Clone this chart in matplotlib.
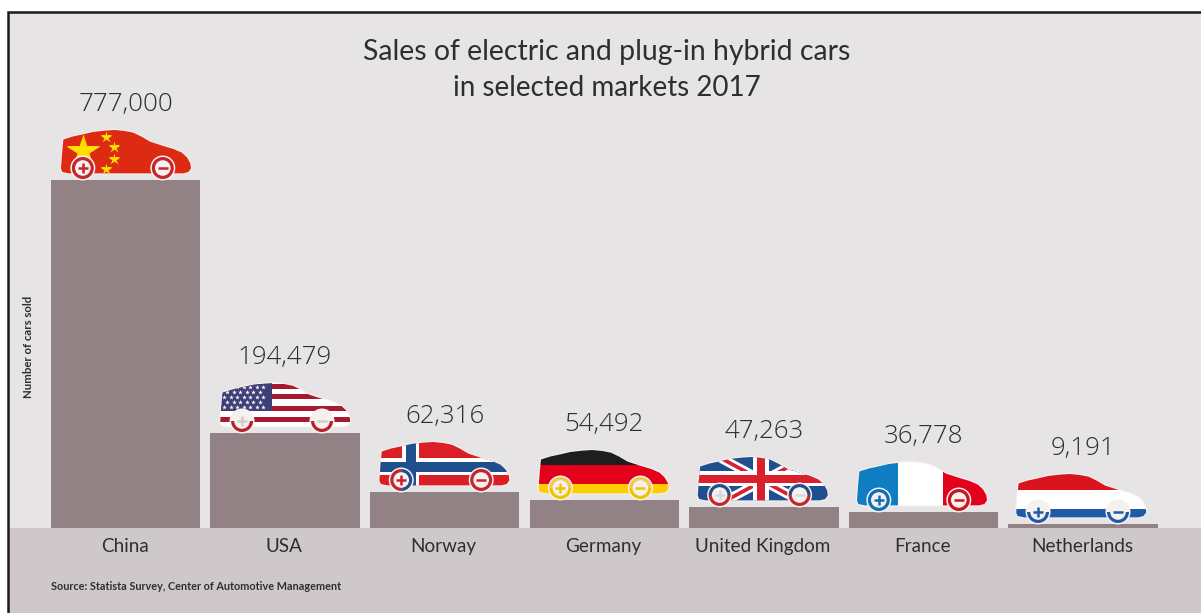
import matplotlib
matplotlib.use('Agg')
import matplotlib.pyplot as plt
from matplotlib.patches import Circle, PathPatch, Polygon, Rectangle, Wedge
from matplotlib.path import Path

plt.rcParams['font.family'] = ['Lato', 'DejaVu Sans']

# Data
countries = ['China', 'USA', 'Norway', 'Germany', 'United Kingdom', 'France', 'Netherlands']
labels = ['777,000', '194,479', '62,316', '54,492', '47,263', '36,778', '9,191']
# the source bars are not to scale with the labels, so heights are read off the picture
bar_heights = [348, 95, 36, 28, 21, 16, 4]

BG = '#E7E4E5'
BAND = '#CFC8CB'
BAR = '#928285'
TEXT = '#2E2E30'
PALE = '#F6F1EE'
BAR_X0 = 125.5
BAR_STEP = 159.6
CAR_W = 130
CAR_H = 50

# car outline, x right and y up, both 0..1 across the car box
BODY = [(0.00, 0.23), (0.008, 0.53), (0.018, 0.81), (0.09, 0.87), (0.168, 0.913), (0.245, 0.96),
        (0.336, 0.987), (0.413, 1.00), (0.49, 0.98), (0.556, 0.947), (0.62, 0.867), (0.685, 0.767),
        (0.788, 0.68), (0.866, 0.62), (0.93, 0.547), (0.969, 0.453), (0.995, 0.333), (1.00, 0.233),
        (0.98, 0.16), (0.94, 0.133), (0.06, 0.133), (0.01, 0.16)]
WHEELS = [(0.168, 0.24), (0.783, 0.24)]


def box(ax, car, x0, y0, x1, y1, color, clip):
    """Rectangle in car coordinates, cut to the car outline"""
    cx, cy = car
    r = Rectangle((cx + x0 * CAR_W, cy + y0 * CAR_H), (x1 - x0) * CAR_W, (y1 - y0) * CAR_H,
                  fc=color, ec='none', zorder=3)
    ax.add_patch(r)
    r.set_clip_path(clip)


def poly(ax, car, pts, color, clip):
    cx, cy = car
    p = Polygon([(cx + a * CAR_W, cy + b * CAR_H) for a, b in pts], closed=True, fc=color, ec='none', zorder=3)
    ax.add_patch(p)
    p.set_clip_path(clip)


def star(ax, car, a, b, size, clip, color='#FFDE00'):
    cx, cy = car
    m = ax.plot(cx + a * CAR_W, cy + b * CAR_H, marker='*', ms=size, color=color, mec='none', zorder=4)[0]
    m.set_clip_path(clip)


def flag_china(ax, car, clip):
    box(ax, car, -0.1, -0.1, 1.1, 1.1, '#DD2A12', clip)
    star(ax, car, 0.168, 0.59, 25, clip)
    for a, b in [(0.344, 0.853), (0.41, 0.667), (0.41, 0.413), (0.344, 0.227)]:
        star(ax, car, a, b, 9, clip)


def flag_usa(ax, car, clip):
    box(ax, car, -0.1, -0.1, 1.1, 1.1, 'white', clip)
    for y0 in [0.89, 0.68, 0.45, 0.22]:
        box(ax, car, -0.1, y0, 1.1, y0 + 0.10, '#A6192E', clip)
    box(ax, car, -0.1, 0.446, 0.397, 1.1, '#3F3F78', clip)
    for row in range(5):
        for col in range(7 - row % 2):
            star(ax, car, 0.03 + 0.05 * col + 0.025 * (row % 2), 0.53 + 0.10 * row, 3.5, clip, 'white')


def flag_norway(ax, car, clip):
    box(ax, car, -0.1, -0.1, 1.1, 1.1, '#DA1F26', clip)
    box(ax, car, 0.174, -0.1, 0.308, 1.1, 'white', clip)
    box(ax, car, -0.1, 0.336, 1.1, 0.671, 'white', clip)
    box(ax, car, 0.205, -0.1, 0.282, 1.1, '#1F4F8F', clip)
    box(ax, car, -0.1, 0.40, 1.1, 0.597, '#1F4F8F', clip)


def flag_germany(ax, car, clip):
    box(ax, car, -0.1, 0.696, 1.1, 1.1, '#1E1E1E', clip)
    box(ax, car, -0.1, 0.324, 1.1, 0.696, '#E2001A', clip)
    box(ax, car, -0.1, -0.1, 1.1, 0.324, '#FFCC00', clip)


def flag_uk(ax, car, clip):
    box(ax, car, -0.1, -0.1, 1.1, 1.1, '#1F4F8F', clip)
    for pts in [[(0.05, 1.05), (0.20, 1.05), (0.95, 0.0), (0.80, 0.0)],
                [(0.05, 0.0), (0.20, 0.0), (0.95, 1.05), (0.80, 1.05)]]:
        poly(ax, car, pts, 'white', clip)
    for pts in [[(0.095, 1.05), (0.155, 1.05), (0.905, 0.0), (0.845, 0.0)],
                [(0.095, 0.0), (0.155, 0.0), (0.905, 1.05), (0.845, 1.05)]]:
        poly(ax, car, pts, '#D9202C', clip)
    box(ax, car, 0.423, -0.1, 0.55, 1.1, 'white', clip)
    box(ax, car, -0.1, 0.413, 1.1, 0.713, 'white', clip)
    box(ax, car, 0.456, -0.1, 0.52, 1.1, '#D9202C', clip)
    box(ax, car, -0.1, 0.48, 1.1, 0.633, '#D9202C', clip)


def flag_france(ax, car, clip):
    box(ax, car, -0.1, -0.1, 0.316, 1.1, '#0E7DC2', clip)
    box(ax, car, 0.316, -0.1, 0.658, 1.1, 'white', clip)
    box(ax, car, 0.658, -0.1, 1.1, 1.1, '#E2001A', clip)


def flag_netherlands(ax, car, clip):
    box(ax, car, -0.1, 0.68, 1.1, 1.1, '#D9141E', clip)
    box(ax, car, -0.1, 0.30, 1.1, 0.68, 'white', clip)
    box(ax, car, -0.1, -0.1, 1.1, 0.30, '#1F5AA6', clip)


flags = [flag_china, flag_usa, flag_norway, flag_germany, flag_uk, flag_france, flag_netherlands]
# each wheel: first half of the ring, second half, sign colour, angle where the first half starts
RED = '#C4262E'
BLUE = '#1F4F8F'
wheel_styles = [
    [(RED, RED, RED, 0), (RED, RED, RED, 0)],
    [(PALE, '#B5222E', '#D8C8C8', 0), (PALE, '#B5222E', '#D8C8C8', 0)],
    [(BLUE, RED, RED, -90), (RED, RED, RED, 0)],
    [('#F2C94C', '#F2C200', '#F2C200', 0), ('#F2C94C', '#F2C200', '#F2C200', 0)],
    [(BLUE, RED, '#D8D8E0', 0), (BLUE, RED, '#D8D8E0', 0)],
    [('#0E6FB5', '#0E6FB5', '#0E6FB5', 0), ('#C8141E', '#C8141E', '#C8141E', 0)],
    [(PALE, '#1F5AA6', '#1F5AA6', 0), (PALE, '#1F5AA6', '#1F5AA6', 0)],
]


def wheel(ax, x, y, style, sign):
    top, bottom, glyph, angle = style
    ax.add_patch(Circle((x, y), 12.5, fc=PALE, ec='none', zorder=5))
    ax.add_patch(Wedge((x, y), 11, angle, angle + 180, width=3.2, fc=top, ec='none', zorder=6))
    ax.add_patch(Wedge((x, y), 11, angle + 180, angle + 360, width=3.2, fc=bottom, ec='none', zorder=6))
    ax.plot([x - 5, x + 5], [y, y], color=glyph, lw=1.8, zorder=7, solid_capstyle='butt')
    if sign == '+':
        ax.plot([x, x], [y - 5, y + 5], color=glyph, lw=1.8, zorder=7, solid_capstyle='butt')


def draw_car(ax, cx, base, flag, styles):
    x0 = cx - CAR_W / 2
    car = (x0, base)
    pts = [(x0 + a * CAR_W, base + b * CAR_H) for a, b in BODY]
    codes = [Path.MOVETO] + [Path.LINETO] * (len(pts) - 1) + [Path.CLOSEPOLY]
    path = Path(pts + [pts[0]], codes)
    ax.add_patch(PathPatch(path, fc=PALE, ec=PALE, lw=1.5, zorder=2))
    clip = PathPatch(path, transform=ax.transData, fc='none', ec='none')
    flag(ax, car, clip)
    for (a, b), style, s in zip(WHEELS, styles, ['+', '-']):
        wheel(ax, x0 + a * CAR_W, base + b * CAR_H, style, s)


fig = plt.figure(figsize=(12.01, 6.13), dpi=100, facecolor='white')
ax = fig.add_axes([0, 0, 1, 1])
# one data unit is one pixel, y = 0 is the baseline of the bars
ax.set_xlim(0, 1201)
ax.set_ylim(-85, 528)
ax.axis('off')

ax.add_patch(Rectangle((8, 0), 1193, 515, fc=BG, ec='none', zorder=0))
ax.add_patch(Rectangle((8, -85), 1193, 85, fc=BAND, ec='none', zorder=0))
ax.plot([8, 8, 1201], [-85, 516, 516], color='#1A1A1A', lw=1.8, zorder=1, solid_joinstyle='miter')

xs = [BAR_X0 + BAR_STEP * i for i in range(len(countries))]
ax.bar(xs, bar_heights, width=149.5, color=BAR, zorder=1)

for i, x in enumerate(xs):
    draw_car(ax, x + 0.5 - 0.4 * i, bar_heights[i], flags[i], wheel_styles[i])
    ax.text(x, bar_heights[i] + 75.5, labels[i], ha='center', va='center', fontsize=18.6,
            family=['Open Sans', 'DejaVu Sans'], fontweight='light', color=TEXT, zorder=8)
    ax.text(x - 1, -24, countries[i], ha='center', va='baseline', fontsize=13.6, color=TEXT, zorder=8)

ax.text(607, 528 - 60, 'Sales of electric and plug-in hybrid cars', ha='center', va='baseline',
        fontsize=20.4, color=TEXT)
ax.text(607, 528 - 96, 'in selected markets 2017', ha='center', va='baseline', fontsize=20, color=TEXT)
ax.text(29, 528 - 347, 'Number of cars sold', rotation=90, ha='center', va='center', fontsize=8.2,
        fontweight='bold', color=TEXT)
ax.text(51, -58, 'Source: Statista Survey, Center of Automotive Management', ha='left', va='center',
        fontsize=7.85, fontweight='bold', color=TEXT)

fig.savefig('out.png', dpi=100)
